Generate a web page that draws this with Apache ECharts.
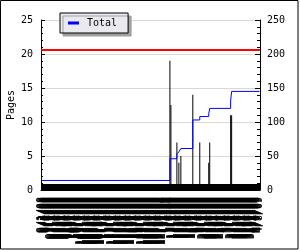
<!DOCTYPE html>
<html><head><meta charset="utf-8">
<script src="https://cdn.jsdelivr.net/npm/echarts@6/dist/echarts.min.js"></script>
<style>html,body{margin:0;padding:0;background:#fff}#c{width:300px;height:250px}</style>
</head><body><div id="c"></div>
<script>
// ---- data ----
var startDate = [2008, 9, 1];   // first category (y, m, d)
var dayCount = 220;             // number of daily categories
var barIndex = [129, 130, 136, 138, 140, 152, 159, 168, 169, 190, 191];
var barPages = [19, 12.5, 7, 4, 5, 14, 7, 4, 7, 11, 11];
var totalIndex = [0, 129, 136, 138, 140, 152, 159, 168, 169, 190, 191, 219];
var totalValue = [14, 46, 53, 56, 61, 103, 108, 112, 120, 131, 145, 145];
var limitValue = 20.6;
var leftTicks = [0, 25, 5];
var rightTicks = [0, 250, 50];

// ---- build ----
var categories = [];
var d = new Date(startDate[0], startDate[1] - 1, startDate[2]);
for (var i = 0; i < dayCount; i++) {
  var yy = String(d.getFullYear() % 100); if (yy.length < 2) yy = '0' + yy;
  categories.push((d.getMonth() + 1) + '/' + d.getDate() + '/' + yy);
  d.setDate(d.getDate() + 1);
}
var tickIdx = categories.map(function (c, k) { return k; });
var barData = categories.map(function () { return 0; });
barIndex.forEach(function (ix, k) { barData[ix] = barPages[k]; });
var totalData = totalIndex.map(function (ix, k) { return [ix, totalValue[k]]; });

var font = 'DejaVu Sans Mono';
var chart = echarts.init(document.getElementById('c'), null, {renderer: 'canvas'});
chart.setOption({
  animation: false,
  backgroundColor: '#fff',
  textStyle: {fontFamily: font},
  graphic: [{type: 'rect', shape: {x: 0.5, y: 0.5, width: 297.5, height: 248.5},
    style: {fill: 'none', stroke: '#000', lineWidth: 1}, z: 100}],
  grid: {left: 41, right: 40, top: 20, bottom: 60, containLabel: false, outerBoundsMode: 'none'},
  legend: {
    data: ['Total'], left: 60, top: 13,
    padding: [5, 11, 5, 8], itemWidth: 11, itemHeight: 3, itemGap: 5,
    icon: 'rect',
    backgroundColor: '#ebe9f0', borderColor: '#000', borderWidth: 1,
    shadowColor: '#a0a0a0', shadowBlur: 0, shadowOffsetX: 3, shadowOffsetY: 3,
    textStyle: {fontFamily: font, fontSize: 10, color: '#000', padding: [0, 0, 0, 3]}
  },
  xAxis: {
    type: 'category', data: categories, boundaryGap: true,
    axisLine: {lineStyle: {color: '#000', width: 1}},
    axisTick: {show: true, inside: true, length: 6, interval: 0, customValues: tickIdx,
      lineStyle: {color: '#000', width: 1}},
    axisLabel: {interval: 0, rotate: 90, fontSize: 10, fontFamily: font, color: '#000', margin: 7, hideOverlap: false}
  },
  yAxis: [{
    type: 'value', min: leftTicks[0], max: leftTicks[1], interval: leftTicks[2],
    name: 'Pages', nameLocation: 'middle', nameGap: 25, nameRotate: 90, nameMoveOverlap: false,
    nameTextStyle: {fontFamily: font, fontSize: 10, color: '#000'},
    axisLine: {show: true, lineStyle: {color: '#000', width: 1}},
    axisTick: {show: true, inside: true, length: 4, lineStyle: {color: '#000'}},
    minorTick: {show: true, splitNumber: 5, length: 2, lineStyle: {color: '#000'}},
    axisLabel: {fontSize: 10, fontFamily: font, color: '#000', margin: 8},
    splitLine: {show: true, lineStyle: {color: '#d8d8d8', width: 1}}
  }, {
    type: 'value', min: rightTicks[0], max: rightTicks[1], interval: rightTicks[2],
    position: 'right',
    axisLine: {show: true, lineStyle: {color: '#000', width: 1}},
    axisTick: {show: true, inside: true, length: 5, lineStyle: {color: '#000'}},
    minorTick: {show: true, splitNumber: 5, length: 3, lineStyle: {color: '#000'}},
    axisLabel: {fontSize: 10, fontFamily: font, color: '#000', margin: 7},
    splitLine: {show: false}
  }],
  series: [{
    name: 'Pages', type: 'bar', yAxisIndex: 0, data: barData, barWidth: 1,
    itemStyle: {color: '#000'}, silent: true,
    markLine: {silent: true, symbol: 'none', label: {show: false},
      lineStyle: {color: '#ff0000', width: 2, type: 'solid'},
      data: [{yAxis: limitValue}]}
  }, {
    name: 'Total', type: 'line', yAxisIndex: 1, data: totalData, step: 'end',
    showSymbol: false, symbol: 'none', lineStyle: {color: '#0000ff', width: 1},
    itemStyle: {color: '#0000ff'}
  }]
});
</script></body></html>
